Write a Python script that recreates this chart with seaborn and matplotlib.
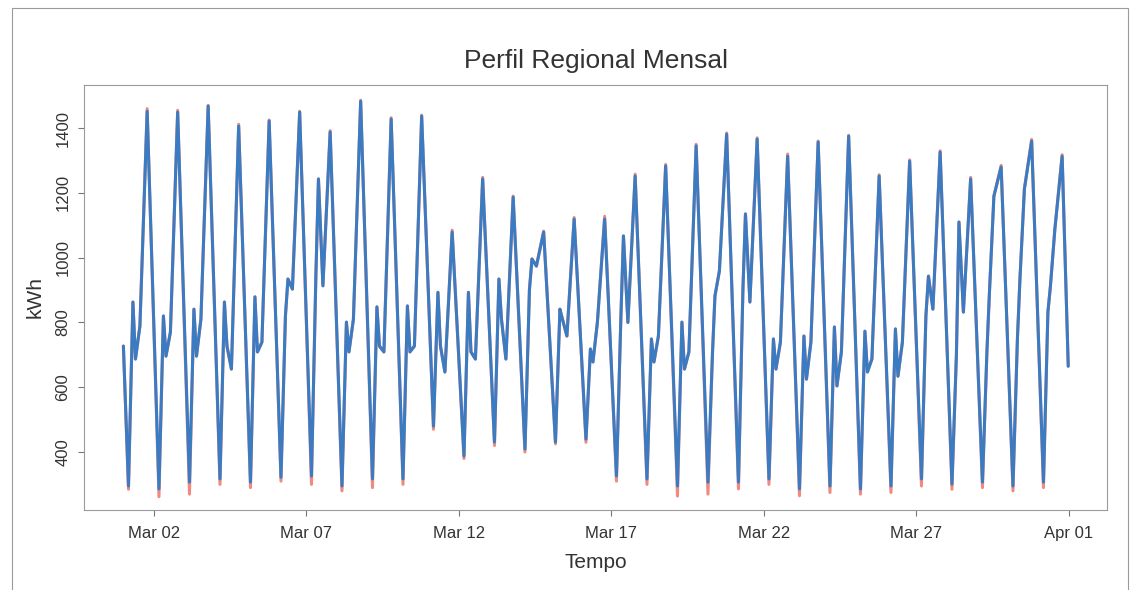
import matplotlib
matplotlib.use('Agg')
import matplotlib.pyplot as plt
import matplotlib.dates as mdates
from matplotlib.patches import Rectangle
import pandas as pd
import seaborn as sns

# valores, um por dia de março (kWh)
inicio = pd.Timestamp('2015-03-01')
valor_inicial = 727
valor_final = 665
horas = [4, 7.5, 9.5, 13, 18.7]

vale = [295, 286, 307, 317, 307, 322, 326, 295, 317, 317, 480, 388, 431, 409, 431, 440,
        326, 317, 295, 307, 307, 317, 286, 295, 286, 295, 317, 301, 307, 295, 307]
manha = [863, 820, 841, 863, 879, 820, 950, 801, 848, 851, 893, 893, 934, 900, 841, 718,
         820, 749, 801, 700, 900, 749, 758, 786, 773, 780, 820, 700, 709, 749, 832]
meio_dia = [687, 696, 696, 727, 709, 934, 1243, 709, 727, 709, 727, 709, 810, 996, 810, 678,
            1067, 678, 656, 882, 1135, 656, 625, 604, 647, 634, 943, 1110, 893, 934, 913]
tarde = [789, 770, 810, 656, 739, 903, 913, 810, 709, 727, 647, 687, 687, 974, 758, 801,
         800, 758, 709, 959, 863, 739, 739, 709, 687, 739, 841, 832, 1190, 1212, 1089]
pico = [1452, 1449, 1468, 1406, 1422, 1449, 1388, 1483, 1428, 1437, 1079, 1243, 1187, 1079, 1119, 1119,
        1252, 1283, 1345, 1381, 1366, 1313, 1357, 1375, 1252, 1298, 1326, 1243, 1280, 1360, 1313]

# série real: vales e picos um pouco diferentes da prevista
vale_real = [285, 262, 270, 300, 290, 310, 300, 280, 290, 300, 470, 380, 420, 400, 425, 430,
             310, 300, 264, 270, 286, 300, 265, 275, 270, 275, 295, 285, 290, 280, 290]
pico_real = [1460, 1455, 1470, 1412, 1425, 1452, 1392, 1486, 1432, 1440, 1085, 1248, 1190, 1082, 1124, 1128,
             1258, 1288, 1350, 1385, 1370, 1320, 1360, 1378, 1256, 1302, 1330, 1248, 1285, 1365, 1318]


def montar(serie, v_vale, v_pico):
    linhas = [(inicio, valor_inicial)]
    for d in range(len(vale)):
        dia = inicio + pd.Timedelta(days=d)
        vals = [v_vale[d], manha[d], meio_dia[d], tarde[d], v_pico[d]]
        for h, v in zip(horas, vals):
            linhas.append((dia + pd.Timedelta(hours=h), v))
    linhas.append((inicio + pd.Timedelta(days=len(vale) - 1, hours=23.5), valor_final))
    df = pd.DataFrame(linhas, columns=['tempo', 'kwh'])
    df['serie'] = serie
    return df


dados = pd.concat([montar('real', vale_real, pico_real), montar('previsto', vale, pico)],
                  ignore_index=True)

sns.set_style('white')
plt.rcParams['font.family'] = ['Liberation Sans', 'DejaVu Sans']

fig = plt.figure(figsize=(11.37, 5.90), dpi=100)
ax = fig.add_axes([84 / 1137, 80 / 590, 1023 / 1137, 425 / 590])

sns.lineplot(data=dados, x='tempo', y='kwh', hue='serie', estimator=None, sort=False,
             palette={'real': '#f08a80', 'previsto': '#3b7bc2'}, linewidth=2.2,
             legend=False, ax=ax)

ax.set_xlim(inicio - pd.Timedelta(hours=31), inicio + pd.Timedelta(days=32, hours=6))
ax.set_ylim(221, 1533)
ax.set_yticks([400, 600, 800, 1000, 1200, 1400])
ax.set_xticks(pd.date_range('2015-03-02', '2015-04-01', freq='5D'))
ax.xaxis.set_major_formatter(mdates.DateFormatter('%b %d'))
ax.tick_params(axis='both', which='both', direction='out', length=4, width=0.8,
               color='#777777', labelsize=12, labelcolor='#333333', bottom=True, left=True)
ax.tick_params(axis='x', pad=7.8)
ax.tick_params(axis='y', pad=5.7)
for lab in ax.get_yticklabels():
    lab.set_rotation(90)
    lab.set_va('center')
for s in ax.spines.values():
    s.set_color('#9a9a9a')
    s.set_linewidth(0.8)

ax.set_title('Perfil Regional Mensal', fontsize=19, color='#333333', pad=12)
ax.set_xlabel('Tempo', fontsize=15, color='#333333', labelpad=8)
ax.set_ylabel('kWh', fontsize=15, color='#333333', labelpad=8)

fig.patches.append(Rectangle((12 / 1137, -0.1), 1116 / 1137, 1.1 - 8 / 590,
                             transform=fig.transFigure, fill=False,
                             edgecolor='#9a9a9a', linewidth=0.8))

fig.savefig('out.png', dpi=100)
